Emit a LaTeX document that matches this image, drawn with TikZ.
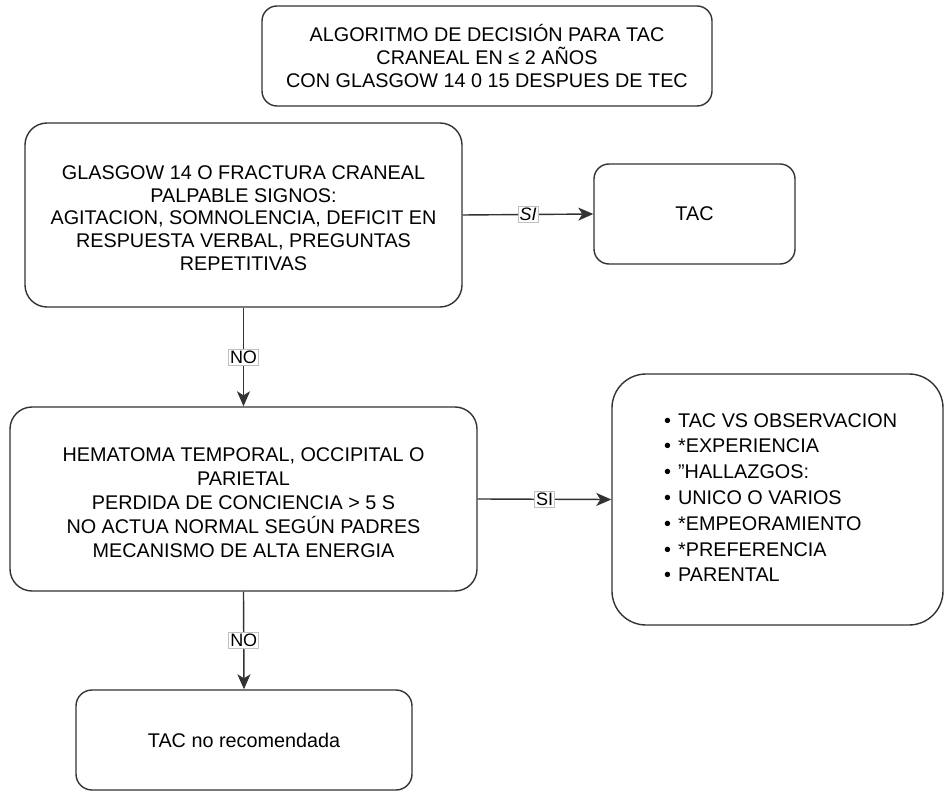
\documentclass[tikz,border=0pt]{standalone}
\usepackage{fontspec}
\setmainfont{Liberation Sans}
\usetikzlibrary{arrows.meta}
\begin{document}
\begin{tikzpicture}[x=1pt,y=-1pt,
  every node/.style={font=\fontsize{19.8}{22.8}\selectfont},
  box/.style={draw=black!80, line width=1.4pt, rounded corners=#1, align=center, inner sep=0pt},
  box/.default=16pt,
  txt/.style={align=center, inner sep=0pt},
  arr/.style={draw=black!80, line width=1.4pt, -{Stealth[length=15pt,width=13pt,inset=4pt]}},
  lbl/.style={fill=white, draw=black!25, line width=0.6pt, inner sep=1.5pt, font=\fontsize{18}{20}\selectfont}]
\useasboundingbox (0,0) rectangle (945,791);
% boxes
\node[box=15pt, minimum width=450pt, minimum height=100pt] (title) at (487,56)
  {ALGORITMO DE DECISIÓN PARA TAC\\CRANEAL EN ≤ 2 AÑOS\\CON GLASGOW 14 0 15 DESPUES DE TEC};
\node[box=22pt, minimum width=437pt, minimum height=184pt] (qa) at (243.5,215) {};
\node[txt] (qatxt) at (243.5,218)
  {GLASGOW 14 O FRACTURA CRANEAL\\PALPABLE SIGNOS:\\AGITACION, SOMNOLENCIA, DEFICIT EN\\RESPUESTA VERBAL, PREGUNTAS\\REPETITIVAS};
\node[box=15pt, minimum width=201pt, minimum height=100pt] (tac) at (694.5,214) {TAC};
\node[box=22pt, minimum width=467pt, minimum height=184pt] (qb) at (243.5,499) {};
\node[txt, font=\fontsize{19.8}{24}\selectfont] (qbtxt) at (243.5,503)
  {HEMATOMA TEMPORAL, OCCIPITAL O\\PARIETAL\\PERDIDA DE CONCIENCIA > 5 S\\NO ACTUA NORMAL SEGÚN PADRES\\MECANISMO DE ALTA ENERGIA};
\node[box=34pt, minimum width=331pt, minimum height=251pt] (obs) at (777.5,499.5) {};
\node[anchor=west, align=left, inner sep=0pt, font=\fontsize{19.8}{25.8}\selectfont] (obstxt) at (664,497.5)
  {\textbullet\hspace{7pt}TAC VS OBSERVACION\\
   \textbullet\hspace{7pt}*EXPERIENCIA\\
   \textbullet\hspace{7pt}"HALLAZGOS:\\
   \textbullet\hspace{7pt}UNICO O VARIOS\\
   \textbullet\hspace{7pt}*EMPEORAMIENTO\\
   \textbullet\hspace{7pt}*PREFERENCIA\\
   \textbullet\hspace{7pt}PARENTAL};
\node[box=16pt, minimum width=336pt, minimum height=100pt] (none) at (244,740) {TAC no recomendada};
% connectors
\draw[arr] (qa.east) -- node[lbl] (si1) {\itshape SI} (tac.west);
\draw[arr] (qa.south) -- node[lbl] (no1) {NO} (qb.north);
\draw[arr] (qb.east) -- node[lbl] (si2) {SI} (obs.west);
\draw[arr] (qb.south) -- node[lbl] (no2) {NO} (none.north);
\end{tikzpicture}
\end{document}
